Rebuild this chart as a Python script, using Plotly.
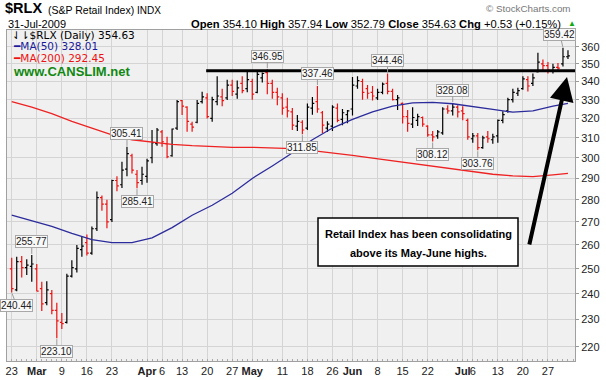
import math
import pandas as pd
import plotly.graph_objects as go

# ---------------- data ----------------
_all = pd.bdate_range("2009-02-23", "2009-07-31")
HOLIDAYS = pd.to_datetime(["2009-04-10", "2009-05-25", "2009-07-03"])
DATES = [d for d in _all if d not in HOLIDAYS]

OPEN = [250, 241.5, 253, 250.5, 251, 250, 242, 236.5, 240, 233.5,
        229, 229, 247, 250, 258, 261, 256.5, 267, 281, 278,
        271, 289, 287, 294.5, 301, 292, 289, 291, 300, 307,
        313, 307, 301, 315, 329.5, 326, 317, 318, 329, 331,
        320, 329, 331.5, 331, 338, 333, 339, 336, 340, 334,
        342, 345, 339, 334, 331, 326, 323.5, 316, 318, 315,
        325.5, 329, 323, 315, 316, 325.5, 319.5, 322, 325, 337.5,
        340, 336, 334, 331, 334, 339, 334.5, 330, 328, 321,
        317, 319, 320.5, 316, 311.5, 311, 312.5, 325, 324, 326,
        324, 319, 309.5, 311, 305, 310.5, 309, 311, 319, 324,
        330, 333.5, 336, 341, 339, 345.5, 350, 349, 346, 348,
        350, 354.10]
HIGH = [254.6, 255, 255.3, 254, 255.77, 252, 244.8, 245, 241.5, 236.5,
        232.5, 248, 253.5, 260, 263.5, 264.5, 268, 283.8, 282, 280,
        289.4, 291, 298, 305.41, 302, 294, 295.6, 299.5, 314, 315,
        314, 310.5, 314.8, 329.8, 329.8, 326.5, 318.3, 329.8, 334.4, 333.5,
        331.6, 343, 336, 341, 341, 340.5, 343, 345.6, 341.5, 345.6,
        345, 346.95, 341, 336.5, 333.5, 331, 325.5, 321.8, 319, 328,
        331.5, 337.46, 324, 318.5, 327, 328, 325, 324.5, 342.5, 343,
        341.5, 338, 337.5, 336, 339.5, 344.46, 336, 332.5, 328.5, 324.5,
        326, 322.5, 321, 316.5, 313.5, 314, 326, 327, 328.08, 327,
        326.5, 320, 312.5, 312.5, 311, 313.5, 312, 319.5, 323.8, 331,
        336, 336.5, 343, 343, 344.5, 356.5, 352.5, 351, 350, 350.5,
        359.42, 357.94]
LOW = [240.44, 241, 246.5, 247.5, 244.8, 241, 233.3, 235.5, 232, 223.10,
       226.5, 228.5, 246.5, 248.5, 255, 255.5, 255.8, 266, 275, 267.2,
       270, 284, 285.5, 291, 292.4, 285.41, 287, 288, 297.3, 306,
       305.5, 299.7, 300.5, 314, 321.8, 313.1, 313.1, 317.5, 328, 320,
       318.3, 327, 326.5, 329.8, 332, 330.5, 333.5, 334, 330, 333.5,
       339.5, 333, 330.5, 327, 322, 320.5, 314, 313.5, 311.85, 314,
       322, 323, 312.5, 313, 313.5, 318, 316.5, 317.5, 321.5, 336,
       330, 330.5, 329.5, 329.8, 333, 333, 329.5, 324.5, 317.4, 313.1,
       315, 316, 315.7, 310.5, 308.12, 309.5, 311.5, 322.5, 321.5, 320.5,
       319, 309, 307.5, 303.76, 304.5, 307.5, 307, 307.5, 317.5, 323,
       328.5, 332, 335.5, 334.5, 337.5, 345, 346.5, 344.5, 344.5, 346,
       348.5, 352.79]
CLOSE = [242, 253, 250.5, 251.5, 252, 241, 236, 241.5, 233.5, 229.5,
         228.5, 247, 250.5, 258.5, 259.5, 256.5, 267, 281, 278, 270,
         289, 286.5, 294, 302, 294, 288, 292, 298.5, 307.5, 314,
         308, 300.5, 314.5, 329, 326.5, 318.5, 315.5, 328, 331.5, 321,
         330, 332, 329.5, 338, 334.5, 336.5, 335, 341, 333, 344,
         344.5, 339, 334, 331.5, 325.5, 324, 316.5, 318.5, 314, 326,
         328, 325, 316.5, 317, 326, 319, 323, 324, 338, 340.5,
         334, 333.5, 332, 334, 338.5, 334.5, 330, 331, 320.9, 317.4,
         320.5, 321, 317, 311.5, 310.5, 313, 325, 324, 326, 323.5,
         322.5, 310.5, 311, 305, 310, 309.5, 310.5, 319, 322, 330,
         334, 335, 341.5, 337.5, 342, 351, 349, 346.5, 348, 347.5,
         354.10, 354.63]
PREV_CLOSE = 250.0  # close of 20-Feb-2009, colours the first bar

MA_DATES = ["2009-02-23", "2009-02-27", "2009-03-05", "2009-03-11", "2009-03-17",
            "2009-03-23", "2009-03-27", "2009-04-02", "2009-04-08", "2009-04-15",
            "2009-04-21", "2009-04-27", "2009-05-01", "2009-05-07", "2009-05-13",
            "2009-05-19", "2009-05-26", "2009-06-01", "2009-06-05", "2009-06-11",
            "2009-06-17", "2009-06-23", "2009-06-29", "2009-07-06", "2009-07-10",
            "2009-07-16", "2009-07-22", "2009-07-28", "2009-07-31"]
MA50 = [273, 270.5, 268, 265, 262.3, 261, 261, 263, 267.5, 273,
        277.5, 283, 290, 296, 302.5, 309, 315, 319.5, 323.5, 326.5,
        328.3, 328.5, 327.8, 326.5, 324.8, 323.3, 324, 326.5, 328.01]
MA200 = [329, 326, 322.5, 318.5, 315, 311.5, 309, 307.8, 306.7, 306,
         305.5, 305.2, 305.2, 305, 304.5, 303.5, 302.5, 301.2, 299.8, 298.5,
         297, 295.7, 294.5, 293.2, 292, 291.2, 290.9, 291.7, 292.45]

TICK_DATES = ["2009-02-23", "2009-03-02", "2009-03-09", "2009-03-16", "2009-03-23",
              "2009-04-01", "2009-04-06", "2009-04-13", "2009-04-20", "2009-04-27",
              "2009-05-01", "2009-05-11", "2009-05-18", "2009-05-26", "2009-06-01",
              "2009-06-08", "2009-06-15", "2009-06-22", "2009-07-01", "2009-07-06",
              "2009-07-13", "2009-07-20", "2009-07-27"]
TICK_TEXT = ["23", "<b>Mar</b>", "9", "16", "23", "<b>Apr</b>", "6", "13", "20", "27",
             "<b>May</b>", "11", "18", "26", "<b>Jun</b>", "8", "15", "22", "<b>Jul</b>",
             "6", "13", "20", "27"]
Y_TICKS = [220, 230, 240, 250, 260, 270, 280, 290, 300, 310, 320, 330, 340, 350, 360]

# labelled highs / lows: (date, price, kind)
PRICE_LABELS = [("2009-02-23", 240.44, "L"), ("2009-02-27", 255.77, "H"),
                ("2009-03-06", 223.10, "L"), ("2009-03-26", 305.41, "H"),
                ("2009-03-30", 285.41, "L"), ("2009-05-06", 346.95, "H"),
                ("2009-05-15", 311.85, "L"), ("2009-05-20", 337.46, "H"),
                ("2009-06-10", 344.46, "H"), ("2009-06-23", 308.12, "L"),
                ("2009-06-29", 328.08, "H"), ("2009-07-07", 303.76, "L"),
                ("2009-07-30", 359.42, "H")]

RESISTANCE = 346.0
RESISTANCE_FROM = "2009-04-20"

# ---------------- helpers ----------------
def idx(d):
    return DATES.index(pd.Timestamp(d))

W, H = 606, 380
PL, PR, PT, PB = 7, 575, 30, 361
def px(x):
    return (x - PL) / (PR - PL)
def py(y):
    return (PB - y) / (PB - PT)

X = list(range(len(DATES)))
X_MIN, X_MAX = -0.94, 112.4

up, dn = [], []
prev = PREV_CLOSE
for i, c in enumerate(CLOSE):
    (up if c >= prev else dn).append(i)
    prev = c

fig = go.Figure()
for sel, col in [(up, "#000000"), (dn, "#ee1111")]:
    fig.add_trace(go.Ohlc(
        x=[X[i] for i in sel], open=[OPEN[i] for i in sel], high=[HIGH[i] for i in sel],
        low=[LOW[i] for i in sel], close=[CLOSE[i] for i in sel],
        increasing=dict(line=dict(color=col, width=1.2)),
        decreasing=dict(line=dict(color=col, width=1.2)),
        tickwidth=0.38, hoverinfo="skip", showlegend=False))

ma_x = [idx(d) for d in MA_DATES]
fig.add_trace(go.Scatter(x=ma_x, y=MA50, mode="lines", line=dict(color="#2b2b9c", width=1.3),
                         hoverinfo="skip", showlegend=False))
fig.add_trace(go.Scatter(x=ma_x, y=MA200, mode="lines", line=dict(color="#ee2222", width=1.3),
                         hoverinfo="skip", showlegend=False))
fig.add_trace(go.Scatter(x=[idx(RESISTANCE_FROM) - 0.2, X_MAX], y=[RESISTANCE, RESISTANCE],
                         mode="lines", line=dict(color="black", width=3),
                         hoverinfo="skip", showlegend=False))

ann = []
LBL_FONT = dict(family="Liberation Sans, Arial, sans-serif", size=10, color="#222")
for d, p, k in PRICE_LABELS:
    i = idx(d)
    shift_x = 0
    if i >= len(DATES) - 3:
        shift_x = -3
    elif i <= 1:
        shift_x = 5
    ann.append(dict(x=i, y=math.log10(p), xref="x", yref="y", text=f"{p:.2f}",
                    showarrow=True, ax=shift_x, ay=(-13 if k == "H" else 13),
                    arrowhead=0, arrowwidth=1, arrowcolor="#9a9a9a", standoff=1,
                    bordercolor="#a8a8a8", borderwidth=1, borderpad=0,
                    bgcolor="#f8f8f8", font=LBL_FONT))

SANS = "Liberation Sans, Arial, sans-serif"
VERD = "DejaVu Sans, Verdana, sans-serif"
def text(x, y, s, size, color="#000", family=SANS, anchor="left"):
    ann.append(dict(x=px(x), y=py(y), xref="paper", yref="paper", text=s, showarrow=False,
                    xanchor=anchor, yanchor="middle", font=dict(family=family, size=size, color=color)))

o, h, l, c = OPEN[-1], HIGH[-1], LOW[-1], CLOSE[-1]
chg = c - CLOSE[-2]
pct = chg / CLOSE[-2] * 100

text(3, 8.5, "<b>$RLX</b>", 14.5)
text(46, 10, "(S&P Retail Index)", 10.5)
text(135, 10, "INDX", 10)
text(6, 23.5, "31-Jul-2009", 11)
text(189, 23.5, f"<b>Open</b> {o:.2f} <b>High</b> {h:.2f} <b>Low</b> {l:.2f} "
                f"<b>Close</b> {c:.2f} <b>Chg</b> {chg:+.2f} ({pct:+.2f}%)", 11.2)
text(566, 23, "▲", 8, color="#11aa11")
text(484, 8.5, "© StockCharts.com", 9.8, color="#777")

text(10, 35, f"⇃⇂$RLX (Daily) {c:.2f}", 10.5, family=VERD)
text(11, 46.5, f"━MA(50) {MA50[-1]:.2f}", 10.5, color="#1a1a9a", family=VERD)
text(11, 57.5, f"━MA(200) {MA200[-1]:.2f}", 10.5, color="#ee1111", family=VERD)
text(11, 71.5, "<b>www.CANSLIM.net</b>", 13, color="#118811")

text(418, 234, "<b>Retail Index has been consolidating</b>", 11, anchor="center")
text(418, 253, "<b>above its May-June highs.</b>", 11, anchor="center")

ann.append(dict(x=px(567), y=py(77), xref="paper", yref="paper", text="", showarrow=True,
                ax=-38, ay=169, arrowhead=2, arrowsize=1.2, arrowwidth=4, arrowcolor="black"))

shapes = [dict(type="rect", xref="paper", yref="paper", x0=px(318), x1=px(518),
               y0=py(266), y1=py(218), line=dict(color="black", width=1.5), fillcolor="white",
               layer="above")]

fig.update_layout(
    width=W, height=H, margin=dict(l=PL, r=W - PR, t=PT, b=H - PB, autoexpand=False),
    paper_bgcolor="white", plot_bgcolor="#f0f0f0",
    annotations=ann, shapes=shapes, showlegend=False, hovermode=False,
    xaxis=dict(range=[X_MIN, X_MAX], tickmode="array", tickvals=[idx(d) for d in TICK_DATES],
               ticktext=TICK_TEXT, tickangle=0, automargin=False,
               showgrid=True, gridcolor="#d4d4d4", gridwidth=1,
               zeroline=False, showline=True, linecolor="#a0a0a0", mirror=True,
               ticks="", tickfont=dict(family=SANS, size=11, color="#222"),
               rangeslider=dict(visible=False), fixedrange=True,
               minor=dict(tickmode="linear", tick0=0, dtick=1, ticks="inside", ticklen=2,
                          tickcolor="#aaaaaa", showgrid=False)),
    yaxis=dict(type="log", side="right", range=[math.log10(214.9), math.log10(370)],
               tickmode="array", tickvals=Y_TICKS, ticktext=[str(v) for v in Y_TICKS],
               automargin=False, showgrid=True, gridcolor="#d4d4d4", zeroline=False,
               showline=True, linecolor="#a0a0a0", mirror=True, ticks="outside", ticklen=3,
               tickcolor="#999", tickfont=dict(family=SANS, size=11, color="#222"),
               fixedrange=True),
)

fig.write_html("out.html", config={"displayModeBar": False},
               post_script="document.body.style.margin='0px';document.body.style.overflow='hidden';")
